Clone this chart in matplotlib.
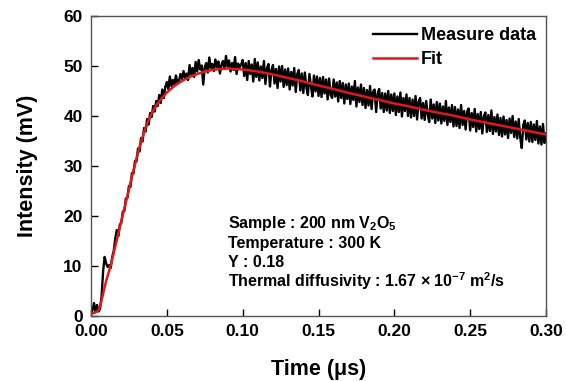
import matplotlib
matplotlib.use("Agg")
import matplotlib.pyplot as plt
from matplotlib.font_manager import FontProperties
import numpy as np

plt.rcParams['font.family'] = ['Liberation Sans', 'DejaVu Sans']
plt.rcParams['mathtext.fontset'] = 'custom'
plt.rcParams['mathtext.rm'] = 'Liberation Sans:bold'
plt.rcParams['mathtext.bf'] = 'Liberation Sans:bold'
plt.rcParams['mathtext.it'] = 'Liberation Sans:bold'
plt.rcParams['mathtext.default'] = 'rm'

# measured signal, one value every 0.001 us (0.000 .. 0.300)
t_meas = np.arange(301) * 0.001
v_meas = [
    0.3, 1.2, 2.6, 0.8, 2.2, 0.9, 1.5, 4.0, 9.0, 11.8,
    10.5, 9.8, 10.2, 9.6, 11.8, 13.0, 15.5, 17.2, 16.0, 18.3,
    18.6, 20.9, 21.0, 23.5, 23.6, 26.0, 25.8, 28.6, 28.5, 31.0,
    30.9, 33.5, 32.9, 35.6, 34.9, 37.6, 36.9, 39.4, 38.3, 40.6,
    39.8, 42.0, 40.9, 43.0, 42.0, 44.2, 42.6, 45.3, 43.6, 45.8,
    46.8, 45.4, 47.9, 46.0, 47.2, 46.3, 48.1, 46.6, 47.0, 48.4,
    47.4, 49.0, 47.6, 48.5, 47.2, 50.2, 48.3, 49.6, 47.8, 50.8,
    48.9, 51.2, 49.3, 50.1, 46.3, 49.8, 50.6, 48.7, 51.7, 49.6,
    50.4, 49.0, 51.3, 49.8, 50.9, 48.5, 50.2, 51.0, 49.4, 52.0,
    49.9, 51.1, 48.9, 50.6, 49.2, 51.8, 48.4, 50.5, 49.7, 50.3,
    51.2, 48.0, 50.6, 47.2, 51.0, 48.4, 50.3, 46.9, 51.4, 47.8,
    50.7, 47.1, 49.9, 47.6, 51.0, 46.4, 49.5, 50.4, 45.9, 49.2,
    50.2, 46.5, 49.4, 45.6, 49.9, 46.9, 50.0, 45.8, 49.3, 46.2,
    49.5, 45.3, 48.8, 46.1, 49.6, 44.8, 48.4, 49.2, 45.1, 48.5,
    44.6, 48.7, 45.8, 44.2, 48.4, 46.0, 43.9, 48.1, 44.9, 47.9,
    44.0, 47.6, 43.8, 47.8, 44.5, 47.3, 43.3, 47.5, 44.2, 43.6,
    47.3, 43.9, 46.7, 42.9, 47.0, 43.6, 46.6, 42.5, 46.3, 43.4,
    46.5, 42.4, 45.9, 43.2, 47.0, 41.9, 45.7, 42.8, 46.3, 42.2,
    45.6, 41.6, 45.2, 42.1, 46.0, 41.4, 44.9, 45.3, 40.8, 44.5,
    45.4, 41.5, 44.6, 40.8, 44.5, 41.1, 45.0, 40.6, 44.3, 41.0,
    44.5, 40.2, 43.9, 40.8, 44.7, 39.9, 43.6, 41.0, 44.3, 40.0,
    43.6, 39.7, 43.3, 40.0, 44.0, 39.3, 42.9, 43.6, 39.5, 42.6,
    39.2, 43.0, 40.3, 38.8, 43.3, 39.5, 42.3, 38.6, 42.8, 39.1,
    42.5, 38.5, 41.9, 39.0, 43.0, 38.2, 41.7, 38.8, 42.2, 37.9,
    41.8, 38.0, 41.3, 37.6, 42.2, 38.2, 41.0, 37.3, 40.9, 41.5,
    37.1, 40.6, 37.8, 41.4, 36.9, 40.4, 37.4, 40.8, 36.5, 39.9,
    40.7, 36.8, 40.2, 37.0, 41.1, 36.4, 39.8, 36.9, 40.3, 36.2,
    39.6, 35.9, 39.9, 36.3, 39.2, 35.6, 39.5, 36.6, 40.0, 35.8,
    38.9, 35.5, 39.4, 35.7, 33.6, 38.2, 39.1, 35.3, 38.6, 34.9,
    38.8, 34.8, 38.3, 35.2, 39.0, 34.5, 37.9, 34.3, 38.4, 34.6,
    36.5,
]

# fitted curve
t_fit = [0.000, 0.002, 0.004, 0.005, 0.006, 0.007, 0.008, 0.010, 0.013, 0.016,
         0.020, 0.024, 0.028, 0.030, 0.032, 0.034, 0.036, 0.038, 0.040, 0.042,
         0.044, 0.046, 0.048, 0.050, 0.055, 0.060, 0.065, 0.070, 0.075, 0.080,
         0.085, 0.090, 0.095, 0.100, 0.110, 0.120, 0.130, 0.140, 0.150, 0.160,
         0.170, 0.180, 0.190, 0.200, 0.210, 0.220, 0.230, 0.240, 0.250, 0.260,
         0.270, 0.280, 0.290, 0.300]
v_fit = [0.5, 0.6, 0.9, 1.2, 2.0, 3.2, 4.5, 7.0, 10.1, 13.9,
         19.0, 24.0, 29.1, 31.5, 33.8, 35.8, 37.7, 39.2, 40.5, 41.6,
         42.5, 43.3, 44.0, 44.7, 46.0, 47.0, 47.8, 48.4, 48.9, 49.2,
         49.4, 49.5, 49.4, 49.3, 48.9, 48.3, 47.6, 46.9, 46.1, 45.4,
         44.6, 43.9, 43.2, 42.5, 41.9, 41.2, 40.6, 40.0, 39.3, 38.7,
         38.1, 37.5, 36.9, 36.3]

info_lines = [
    "Sample : 200 nm V$_2$O$_5$",
    "Temperature : 300 K",
    "Y : 0.18",
    "Thermal diffusivity : 1.67 \u00d7 10$^{-7}$ m$^2$/s",
]
info_y = [0.293, 0.227, 0.163, 0.097]   # baselines, axes fraction

fig = plt.figure(figsize=(5.66, 3.81), dpi=100)
ax = fig.add_axes([91/566, 1 - 316/381, 455/566, 300/381])

ax.plot(t_meas, v_meas, '-', color='black', lw=1.7, label='Measure data')
ax.plot(t_fit, v_fit, '-', color='#e0181b', lw=1.8, label='Fit')

ax.set_xlim(0, 0.30)
ax.set_ylim(0, 60)
ax.set_xticks(np.arange(0, 0.31, 0.05))
ax.set_yticks(np.arange(0, 61, 10))
ax.xaxis.set_major_formatter(matplotlib.ticker.FormatStrFormatter('%.2f'))
ax.tick_params(direction='in', length=5, width=1, top=False, right=False,
               labelsize=12.5, pad=6)
for lab in ax.get_xticklabels() + ax.get_yticklabels():
    lab.set_fontweight('bold')
for sp in ax.spines.values():
    sp.set_color('#555555')
    sp.set_linewidth(1.0)

ax.set_xlabel('Time (\u03bcs)', fontsize=15.5, fontweight='bold', labelpad=14)
ax.set_ylabel('Intensity (mV)', fontsize=15.5, fontweight='bold', labelpad=18)

leg_font = FontProperties(family='Liberation Sans', weight='bold', size=13)
leg = ax.legend(loc='upper left', bbox_to_anchor=(0.62, 0.963), frameon=False,
                prop=leg_font, handlelength=2.45, handletextpad=0.2,
                labelspacing=0.4, borderpad=0, borderaxespad=0)

for line, y in zip(info_lines, info_y):
    ax.text(0.301, y, line, transform=ax.transAxes, fontsize=11.5,
            fontweight='bold', va='baseline', ha='left')

fig.savefig('out.png', dpi=100)
